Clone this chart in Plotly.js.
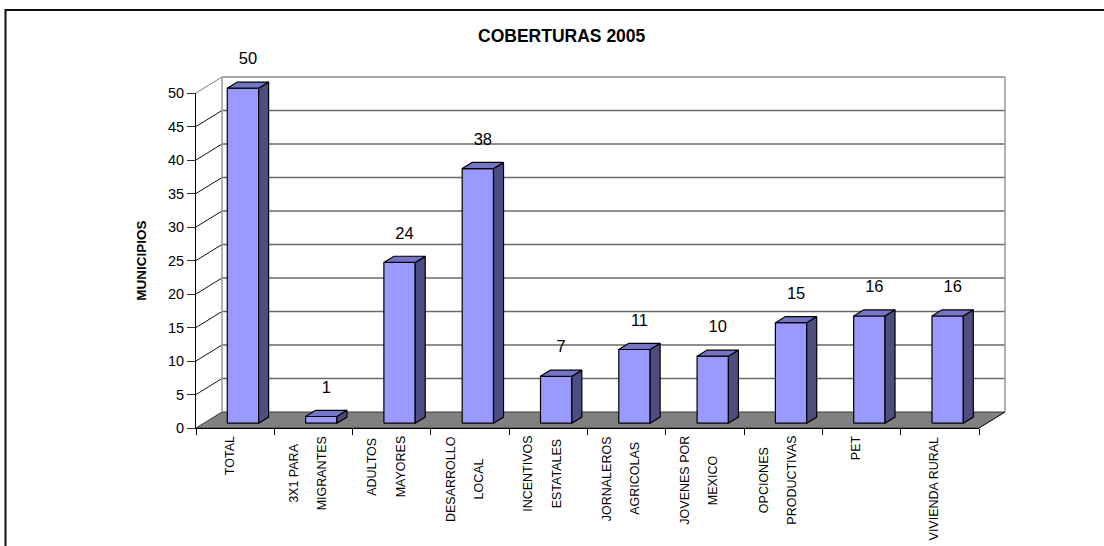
<!DOCTYPE html>
<html>
<head>
<meta charset="utf-8">
<script src="https://cdn.plot.ly/plotly-3.0.1.min.js"></script>
<style>html,body{margin:0;padding:0;background:#fff;}#chart{width:1104px;height:546px;}</style>
</head>
<body>
<div id="chart"></div>
<script>
// ---- data ----
const chartTitle = 'COBERTURAS 2005';
const yTitle = 'MUNICIPIOS';
const categories = ['TOTAL', '3X1 PARA<br>MIGRANTES', 'ADULTOS<br>MAYORES', 'DESARROLLO<br>LOCAL',
  'INCENTIVOS<br>ESTATALES', 'JORNALEROS<br>AGRICOLAS', 'JOVENES POR<br>MEXICO',
  'OPCIONES<br>PRODUCTIVAS', 'PET', 'VIVIENDA RURAL'];
const values = [50, 1, 24, 38, 7, 11, 10, 15, 16, 16];
const yTicks = [0, 5, 10, 15, 20, 25, 30, 35, 40, 45, 50];

// ---- layout / style constants ----
const W = 1104, H = 546;
const X0 = 196, Y0 = 428;          // front plane origin (px)
const CAT_PX = 78.3, UNIT_PX = 6.7; // px per category, px per unit
const DEPTH_DX = 26, DEPTH_DY = 16; // 3D depth offset (px)
const BAR_W = 0.40, BAR_D0 = 0.30, BAR_D1 = 0.685;
const LABEL_GAP_PX = 28;
const LABEL_TOP_PX = 436;
const COL_FRONT = '#9999FF', COL_SIDE = '#4D4D80', COL_TOP = '#7575C6';

const DX = DEPTH_DX / CAT_PX, DY = DEPTH_DY / UNIT_PX;
const nCat = categories.length;
const yMax = yTicks[yTicks.length - 1];

function hasFont(name) {
  const c = document.createElement('canvas').getContext('2d');
  const s = 'DESARROLLO MIGRANTES 0123';
  c.font = '40px monospace';
  const a = c.measureText(s).width;
  c.font = '40px "' + name + '", monospace';
  return c.measureText(s).width !== a;
}
const narrow = hasFont('Liberation Sans Narrow');
const RF = narrow ? '"Liberation Sans Narrow", "Liberation Sans", Arial, sans-serif' : '"Liberation Sans", Arial, sans-serif';
const catSize = narrow ? 14.5 : 12.5;
const yTitleSize = narrow ? 16 : 13.5;
const BF = '"Liberation Sans", Arial, sans-serif';

function P(u, d, v) { return [u + d * DX, v + d * DY]; }
function poly(pts, fill, lc, lw) {
  const c = pts.concat([pts[0]]);
  return {x: c.map(p => p[0]), y: c.map(p => p[1]), mode: 'lines', fill: 'toself', fillcolor: fill,
    line: {color: lc, width: lw}, hoverinfo: 'skip', showlegend: false};
}
function seg(pts, color, width) {
  return {x: pts.map(p => p[0]), y: pts.map(p => p[1]), mode: 'lines',
    line: {color: color, width: width}, hoverinfo: 'skip', showlegend: false};
}

const traces = [];
// floor
traces.push(poly([P(0, 0, 0), P(nCat, 0, 0), P(nCat, 1, 0), P(0, 1, 0)], '#808080', '#3a3a3a', 1));
// back wall gridlines and left wall diagonals
yTicks.forEach(t => {
  if (t > 0) traces.push(seg([P(0, 1, t), P(nCat, 1, t)], t === yMax ? '#8a8a8a' : '#6a6a6a', 1.5));
  if (t > 0) traces.push(seg([P(0, 0, t), P(0, 1, t)], t === yMax ? '#777777' : '#111111', 1));
});
traces.push(seg([P(0, 1, 0), P(0, 1, yMax)], '#9a9a9a', 1.5));
traces.push(seg([P(nCat, 1, 0), P(nCat, 1, yMax)], '#9a9a9a', 1.5));
traces.push(seg([P(nCat, 0, 0), P(nCat, 1, 0)], '#222222', 1));

// bars
values.forEach((v, i) => {
  const u0 = i + 0.5 - BAR_W / 2, u1 = i + 0.5 + BAR_W / 2;
  traces.push(poly([P(u0, BAR_D0, 0), P(u1, BAR_D0, 0), P(u1, BAR_D0, v), P(u0, BAR_D0, v)], COL_FRONT, '#000', 1.2));
  traces.push(poly([P(u1, BAR_D0, 0), P(u1, BAR_D1, 0), P(u1, BAR_D1, v), P(u1, BAR_D0, v)], COL_SIDE, '#000', 1.2));
  traces.push(poly([P(u0, BAR_D0, v), P(u1, BAR_D0, v), P(u1, BAR_D1, v), P(u0, BAR_D1, v)], COL_TOP, '#000', 1.2));
});

// value labels
traces.push({
  x: values.map((v, i) => P(i + 0.5, (BAR_D0 + BAR_D1) / 2, v)[0]),
  y: values.map(v => P(0, BAR_D0, v)[1] + LABEL_GAP_PX / UNIT_PX),
  text: values.map(String), mode: 'text', textposition: 'middle center',
  textfont: {family: BF, size: 16.5, color: '#000'}, hoverinfo: 'skip', showlegend: false, cliponaxis: false
});

// front axes (real axes) carrier
traces.push({x: [0], y: [0], xaxis: 'x2', yaxis: 'y2', mode: 'markers', marker: {opacity: 0},
  hoverinfo: 'skip', showlegend: false});

// category labels
const mctx = document.createElement('canvas').getContext('2d');
mctx.font = catSize + 'px ' + RF;
const annotations = [];
categories.forEach((c, i) => {
  const lines = c.split('<br>');
  const maxLen = Math.max.apply(null, lines.map(l => mctx.measureText(l).width));
  const cy = (Y0 - (LABEL_TOP_PX + maxLen / 2)) / UNIT_PX;
  lines.forEach((l, k) => {
    annotations.push({
      x: i + 0.5, y: cy, xref: 'x', yref: 'y', text: l, showarrow: false, textangle: -90,
      xanchor: 'center', yanchor: 'middle', xshift: -5.5 + (k - (lines.length - 1) / 2) * 28.5,
      font: {family: RF, size: catSize, color: '#000'}
    });
  });
});

const layout = {
  width: W, height: H, margin: {l: 0, r: 0, t: 0, b: 0, pad: 0},
  paper_bgcolor: '#fff', plot_bgcolor: 'rgba(0,0,0,0)', showlegend: false,
  title: {text: '<b>' + chartTitle + '</b>', font: {family: BF, size: 17.5, color: '#000'},
    x: 561.7 / W, xanchor: 'center', xref: 'paper', y: 1 - 35.7 / H, yanchor: 'middle', yref: 'paper'},
  xaxis: {range: [-X0 / CAT_PX, (W - X0) / CAT_PX], visible: false, fixedrange: true},
  yaxis: {range: [(Y0 - H) / UNIT_PX, Y0 / UNIT_PX], visible: false, fixedrange: true},
  xaxis2: {domain: [X0 / W, (X0 + nCat * CAT_PX) / W], range: [0, nCat], anchor: 'y2',
    tickmode: 'array', tickvals: categories.map((c, i) => i).concat([nCat]), showticklabels: false,
    ticks: 'outside', ticklen: 6, tickcolor: '#000', tickwidth: 1,
    showline: true, linecolor: '#000', linewidth: 1, showgrid: false, zeroline: false, fixedrange: true},
  yaxis2: {domain: [(H - Y0) / H, (H - Y0 + yMax * UNIT_PX) / H], range: [0, yMax], anchor: 'x2',
    tickmode: 'array', tickvals: yTicks, ticktext: yTicks.map(String),
    ticks: 'outside', ticklen: 8, tickcolor: '#333', tickwidth: 1,
    tickfont: {family: BF, size: 14.5, color: '#000'},
    showline: true, linecolor: '#000', linewidth: 1, showgrid: false, zeroline: false, fixedrange: true,
    title: {text: '<b>' + yTitle + '</b>', font: {family: RF, size: yTitleSize, color: '#000'}, standoff: 18}},
  shapes: [{type: 'rect', xref: 'paper', yref: 'paper', x0: 5.5 / W, x1: 1.05, y0: -0.05, y1: 1 - 10 / H,
    line: {color: '#111', width: 2}, fillcolor: 'rgba(0,0,0,0)', layer: 'above'}],
  annotations: annotations
};

Plotly.newPlot('chart', traces, layout, {staticPlot: true, displayModeBar: false});
</script>
</body>
</html>
